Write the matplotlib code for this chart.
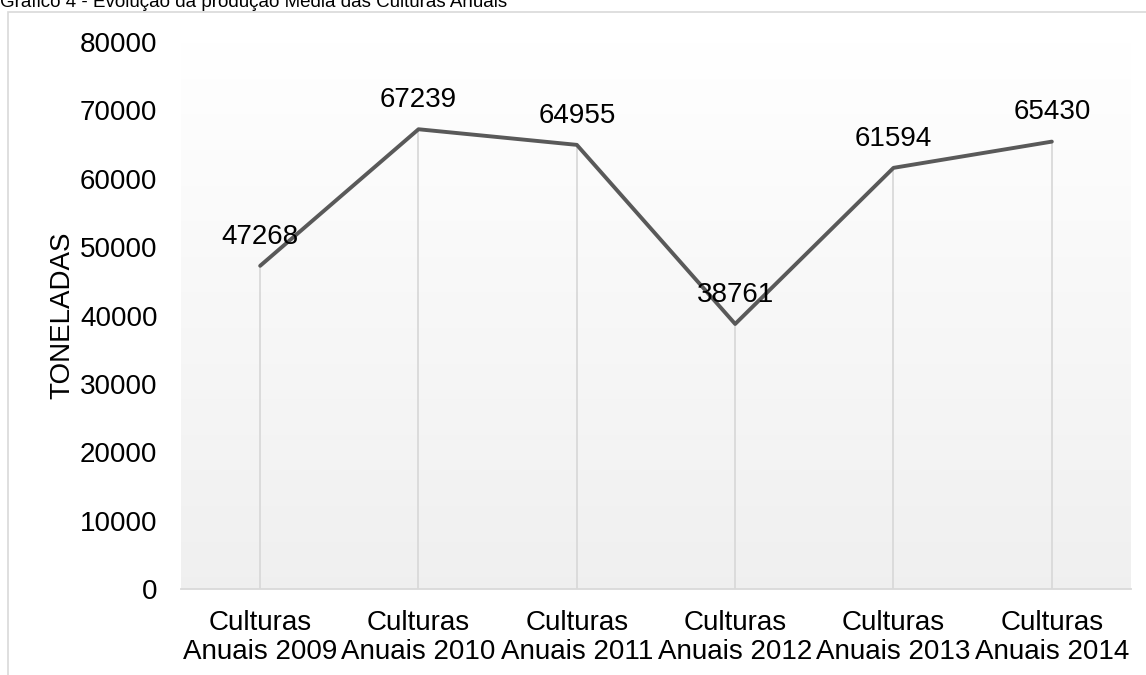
import matplotlib
matplotlib.use("Agg")
import matplotlib.pyplot as plt
import numpy as np
from matplotlib.patches import Rectangle

plt.rcParams['font.family'] = ['Liberation Sans', 'DejaVu Sans']

categories = ["Culturas\nAnuais 2009", "Culturas\nAnuais 2010", "Culturas\nAnuais 2011",
              "Culturas\nAnuais 2012", "Culturas\nAnuais 2013", "Culturas\nAnuais 2014"]
values = [47268, 67239, 64955, 38761, 61594, 65430]
yticks = [0, 10000, 20000, 30000, 40000, 50000, 60000, 70000, 80000]
title = "Gráfico 4 - Evolução da produção Média das Culturas Anuais"
ylabel = "TONELADAS"

W, H = 1146, 675
fig = plt.figure(figsize=(W / 100, H / 100), dpi=100)

# outer chart frame
fig.patches.append(Rectangle((8 / W, -0.1), 1.2, (H - 12) / H + 0.1, transform=fig.transFigure,
                             fill=False, edgecolor="#d9d9d9", linewidth=1.2, zorder=0))
fig.text(0, 1 - 7 / H, title, fontsize=13.5, ha="left", va="baseline", color="black")

left, right, top, bottom = 181, 1131, 42, 589
ax = fig.add_axes([left / W, 1 - bottom / H, (right - left) / W, (bottom - top) / H])

x = np.arange(len(values))
ax.set_xlim(-0.5, len(values) - 0.5)
ax.set_ylim(0, 80000)

# gradient background
grad = np.linspace(1.0, 0.94, 256).reshape(-1, 1)
ax.imshow(np.dstack([grad, grad, grad]), extent=[0, 1, 0, 1], transform=ax.transAxes,
          aspect="auto", zorder=0, interpolation="bilinear")

ax.vlines(x, 0, values, color="#d9d9d9", linewidth=1.3, zorder=1)
ax.plot(x, values, color="#595959", linewidth=2.8, solid_capstyle="round", zorder=3)

for xi, v in zip(x, values):
    ax.annotate(f"{v}", (xi, v), xytext=(0, 16), textcoords="offset points",
                ha="center", va="baseline", fontsize=20, color="black", zorder=4)

ax.set_xticks(x)
ax.set_xticklabels(categories, fontsize=20, linespacing=1.18)
ax.set_yticks(yticks)
ax.set_yticklabels([str(t) for t in yticks], fontsize=20)
ax.tick_params(axis="x", length=0, pad=15)
ax.tick_params(axis="y", length=0, pad=17)
for s in ["top", "right", "left"]:
    ax.spines[s].set_visible(False)
ax.spines["bottom"].set_color("#d9d9d9")
ax.spines["bottom"].set_linewidth(1.3)
ax.set_ylabel(ylabel, fontsize=20)
ax.yaxis.set_label_coords((62 - left) / (right - left), 1 - (315 - top) / (bottom - top))
ax.yaxis.label.set_va("center")

fig.savefig("out.png", dpi=100)
